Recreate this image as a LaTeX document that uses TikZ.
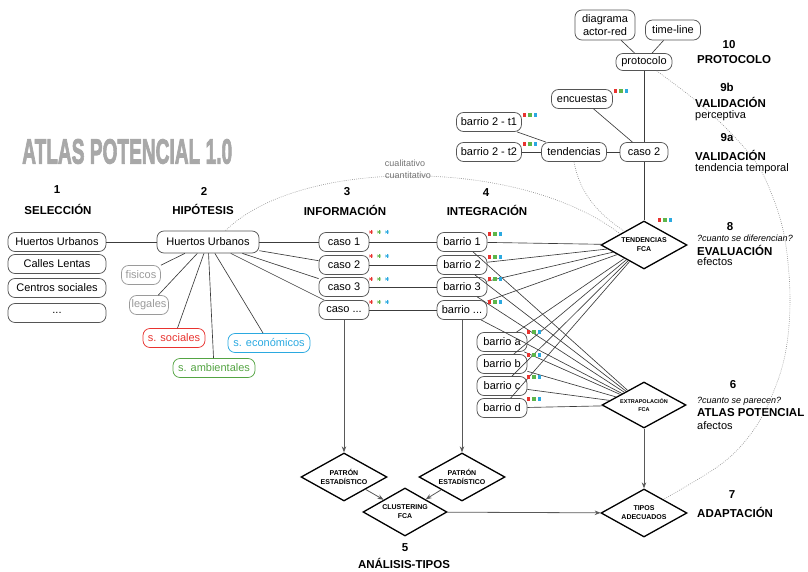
\documentclass[tikz,border=0pt]{standalone}
\usepackage{graphicx}
\usepackage{fontspec}
\setmainfont{Liberation Sans}
\newfontfamily\ttlfont[BoldFeatures={FakeBold=3}]{Liberation Sans}
\usetikzlibrary{shapes.geometric,arrows.meta}
\definecolor{cred}{HTML}{E8332F}
\definecolor{cgreen}{HTML}{5DB64A}
\definecolor{cblue}{HTML}{2BA9E0}
\definecolor{lgray}{HTML}{9A9A9A}
\definecolor{ttl}{HTML}{A8A8A8}
\definecolor{bx}{HTML}{555555}
\definecolor{lnc}{HTML}{3C3C3C}
\tikzset{
  rgbsq/.pic={
    \fill[cred] (-7.2,-1.7) rectangle (-3.8,1.7);
    \fill[cgreen] (-1.7,-1.7) rectangle (1.7,1.7);
    \fill[cblue] (3.8,-1.7) rectangle (7.2,1.7);
  },
  rgbstar/.pic={
    \foreach \cc/\xx in {cred/-8,cgreen/0,cblue/8}{
      \draw[\cc, line width=0.55pt] (\xx,-2.2) -- (\xx,2.2);
      \draw[\cc, line width=0.55pt] (\xx-1.9,-1.1) -- (\xx+1.9,1.1);
      \draw[\cc, line width=0.55pt] (\xx-1.9,1.1) -- (\xx+1.9,-1.1);
    }
  }
}
\begin{document}
\begin{tikzpicture}[x=1pt,y=-1pt,
  box/.style={draw=bx, rounded corners=7pt, line width=0.75pt, font=\fontsize{11}{13}\selectfont, inner sep=1pt, minimum height=19pt, align=center},
  selb/.style={box, minimum width=98pt},
  cb/.style={box, minimum width=50pt},
  dia/.style={diamond, draw=black, line width=1.3pt, aspect=1.8, inner sep=0.5pt, minimum width=86pt, minimum height=48pt, font=\bfseries\fontsize{7}{9}\selectfont, align=center},
  hd/.style={font=\bfseries\fontsize{11.5}{13}\selectfont, inner sep=0pt},
  rg/.style={font=\fontsize{11}{13}\selectfont, inner sep=0pt},
  itx/.style={font=\itshape\fontsize{9}{10}\selectfont, inner sep=0pt},
  ln/.style={draw=lnc, line width=0.65pt},
  arr/.style={draw=lnc!85, line width=0.8pt, -{Stealth[length=6pt,width=4.5pt]}},
  dots/.style={draw=gray!85, line width=0.6pt, dash pattern=on 0.8pt off 1.3pt}
]
\useasboundingbox (0,0) rectangle (808,572);

% title
\node[anchor=west, text=ttl, font=\ttlfont\bfseries\fontsize{35}{35}\selectfont, inner sep=0pt] (title) at (22,151.5) {\resizebox{210pt}{24.5pt}{ATLAS POTENCIAL 1.0}};

% column headings
\node[hd] (n1) at (57,190) {1};
\node[hd] (h1) at (58,209) {SELECCIÓN};
\node[hd] (n2) at (204,191) {2};
\node[hd] (h2) at (203,209) {HIPÓTESIS};
\node[hd] (n3) at (347,192) {3};
\node[hd] (h3) at (345,210) {INFORMACIÓN};
\node[hd] (n4) at (486,193) {4};
\node[hd] (h4) at (487,210) {INTEGRACIÓN};
\node[hd] (n5) at (405,548) {5};
\node[hd] (h5) at (404,563) {ANÁLISIS-TIPOS};

% right column
\node[hd] (n10) at (729,45) {10};
\node[hd,anchor=west] (h10) at (697,60) {PROTOCOLO};
\node[hd] (n9b) at (727,87) {9b};
\node[hd,anchor=west] (h9b) at (695,102) {VALIDACIÓN};
\node[rg,anchor=west] (s9b) at (695,116) {perceptiva};
\node[hd] (n9a) at (727,138) {9a};
\node[hd,anchor=west] (h9a) at (695,155) {VALIDACIÓN};
\node[rg,anchor=west] (s9a) at (695,169) {tendencia temporal};
\node[hd] (n8) at (730,227) {8};
\node[itx,anchor=west] (q8) at (697,238) {?cuanto se diferencian?};
\node[hd,anchor=west] (h8) at (697,250) {EVALUACIÓN};
\node[rg,anchor=west] (s8) at (697,262) {efectos};
\node[hd] (n6) at (733,385) {6};
\node[itx,anchor=west] (q6) at (697,401) {?cuanto se parecen?};
\node[hd,anchor=west] (h6) at (697,413) {ATLAS POTENCIAL};
\node[rg,anchor=west] (s6) at (697,426) {afectos};
\node[hd] (n7) at (732,495) {7};
\node[hd,anchor=west] (h7) at (697,512) {ADAPTACIÓN};

% selection
\node[selb] (s1) at (57,242) {Huertos Urbanos};
\node[selb] (s2) at (57,264) {Calles Lentas};
\node[selb] (s3) at (57,288) {Centros sociales};
\node[selb] (s4) at (57,313) {...};

% hypothesis
\node[box, minimum width=102pt, minimum height=22pt] (hip) at (208,242) {Huertos Urbanos};
\node[box, draw=lgray, text=lgray, minimum width=39pt] (fis) at (141,275) {fisicos};
\node[box, draw=lgray, text=lgray, minimum width=39pt] (leg) at (149,305) {legales};
\node[box, draw=cred, text=cred, minimum width=62pt] (soc) at (174,338) {s. sociales};
\node[box, draw=cgreen!90!black, text=cgreen!90!black, minimum width=82pt] (amb) at (214,368) {s. ambientales};
\node[box, draw=cblue, text=cblue, minimum width=82pt] (eco) at (269,343) {s. económicos};

% casos
\node[cb] (c1) at (344,242) {caso 1};
\node[cb] (c2) at (344,265) {caso 2};
\node[cb] (c3) at (344,287) {caso 3};
\node[cb] (c4) at (344,310) {caso ...};

% barrios
\node[cb] (b1) at (462,242) {barrio 1};
\node[cb] (b2) at (462,265) {barrio 2};
\node[cb] (b3) at (462,287) {barrio 3};
\node[cb] (b4) at (462,310) {barrio ...};
\node[cb] (ba) at (502,342) {barrio a};
\node[cb] (bb) at (502,364) {barrio b};
\node[cb] (bc) at (502,386) {barrio c};
\node[cb] (bd) at (502,408) {barrio d};

% top cluster
\node[box, minimum width=65pt] (t1) at (489,122) {barrio 2 - t1};
\node[box, minimum width=65pt] (t2) at (489,152) {barrio 2 - t2};
\node[box, minimum width=65pt] (tb) at (574,152) {tendencias};
\node[box, minimum width=48pt] (c2t) at (644,152) {caso 2};
\node[box, minimum width=61pt] (enc) at (582,99) {encuestas};
\node[box, minimum width=56pt, minimum height=17pt] (proto) at (644,62) {protocolo};
\node[box, minimum width=60pt, minimum height=30pt, font=\fontsize{11}{13}\selectfont] (diag) at (605,25) {diagrama\\actor-red};
\node[box, minimum width=55pt, minimum height=20pt] (tl) at (673,30) {time-line};

% diamonds
\node[dia] (tend) at (644,245) {TENDENCIAS\\FCA};
\node[dia, minimum width=84pt, minimum height=46pt, font=\bfseries\fontsize{5.5}{7.5}\selectfont] (extra) at (644,405) {EXTRAPOLACIÓN\\FCA};
\node[dia] (pat1) at (344,477) {PATRÓN\\ESTADÍSTICO};
\node[dia] (pat2) at (462,477) {PATRÓN\\ESTADÍSTICO};
\node[dia, minimum width=84pt] (clus) at (405,512) {CLUSTERING\\FCA};
\node[dia] (tipos) at (644,513) {TIPOS\\ADECUADOS};

% connectors
\draw[ln] (s1) -- (hip);
\foreach \nd in {c1,c2,c3,c4,fis,leg,soc,amb,eco} \draw[ln] (hip) -- (\nd);
\draw[ln] (c1) -- (b1);
\draw[ln] (c2) -- (b2);
\draw[ln] (c3) -- (b3);
\draw[ln] (c4) -- (b4);
\foreach \nd in {b1,b2,b3,b4,ba,bb,bc,bd}{
  \draw[ln] (\nd) -- (tend);
  \draw[ln] (\nd) -- (extra);
}
\draw[ln] (t1) -- (tb);
\draw[ln] (t2) -- (tb);
\draw[ln] (tb) -- (c2t);
\draw[ln] (enc) -- (c2t);
\draw[ln] (proto) -- (c2t);
\draw[ln] (diag) -- (proto);
\draw[ln] (tl) -- (proto);
\draw[ln] (c2t) -- (tend);

% arrows
\draw[arr] (c4) -- (pat1);
\draw[arr] (b4) -- (pat2);
\draw[arr] (pat1) -- (clus);
\draw[arr] (pat2) -- (clus);
\draw[arr] (clus) -- (tipos);
\draw[arr] (extra) -- (tipos);

% dotted curves
\draw[dots] (hip.33) .. controls (300,157) and (520,157) .. (tend.155);
\draw[dots] (tb.south) .. controls (580,195) and (600,215) .. (tend.145);
\draw[dots] plot[smooth, tension=0.6] coordinates {(proto.-35) (707,110) (752,157) (772,195) (785,240) (790,300) (785,355) (770,400) (750,435) (720,465) (tipos.35)};
\node[font=\fontsize{9}{10}\selectfont, text=gray!90!black, inner sep=0pt] (cual) at (405,163) {cualitativo};
\node[font=\fontsize{9}{10}\selectfont, text=gray!90!black, inner sep=0pt] (cuan) at (408,175) {cuantitativo};

% stars and squares
\pic at (379,232) {rgbstar};
\pic at (379,256) {rgbstar};
\pic at (379,279) {rgbstar};
\pic at (379,302) {rgbstar};
\pic at (495,234) {rgbsq};
\pic at (495,257) {rgbsq};
\pic at (495,279) {rgbsq};
\pic at (495,302) {rgbsq};
\pic at (534,332) {rgbsq};
\pic at (534,355) {rgbsq};
\pic at (534,377) {rgbsq};
\pic at (534,399) {rgbsq};
\pic at (665,220) {rgbsq};
\pic at (621,91) {rgbsq};
\pic at (530,115) {rgbsq};
\pic at (530,144) {rgbsq};
\end{tikzpicture}
\end{document}
